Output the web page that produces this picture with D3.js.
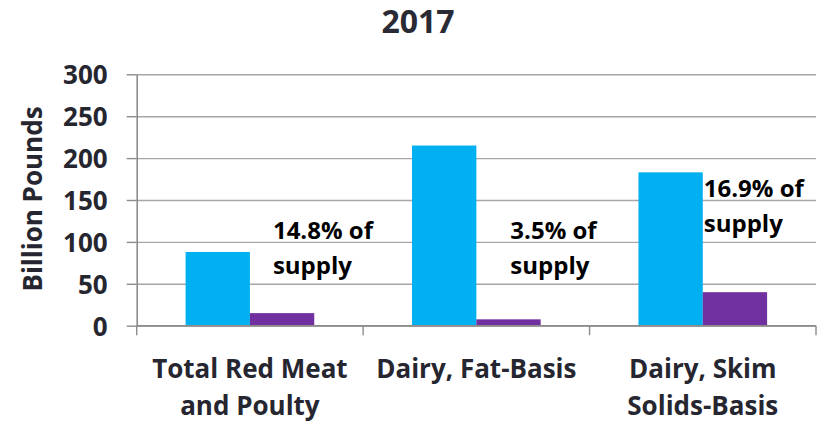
<!DOCTYPE html>
<html>
<head>
<meta charset="utf-8">
<script src="https://cdn.jsdelivr.net/npm/d3@7"></script>
<style>
  body { margin: 0; background: #fff; }
  text { font-family: "Open Sans", Lato, sans-serif; font-weight: 700; }
</style>
</head>
<body>
<div id="chart"></div>
<script>
// Chart data
const categories = [["Total Red Meat", "and Poulty"], ["Dairy, Fat-Basis"], ["Dairy, Skim", "Solids-Basis"]];
const seriesNames = ["Supply", "Exports"];
const supply = [88, 215, 183];
const exports = [15, 7.6, 40];
const shareLabels = [["14.8% of", "supply"], ["3.5% of", "supply"], ["16.9% of", "supply"]];
const yTicks = [0, 50, 100, 150, 200, 250, 300];
const title = "2017";

const svgWidth = 824, svgHeight = 422;
const margin = { top: 74.3, right: 8, bottom: 96.3, left: 136.7 };
const width = svgWidth - margin.left - margin.right;
const height = svgHeight - margin.top - margin.bottom;
const colors = ["#00B0F0", "#7030A0"];

const svg = d3.select("#chart")
    .append("svg")
    .attr("width", svgWidth)
    .attr("height", svgHeight);

const g = svg.append("g")
    .attr("transform", `translate(${margin.left},${margin.top})`);

// Scales
const x = d3.scaleBand()
    .domain(d3.range(categories.length))
    .range([0, width])
    .padding(0);

const x1 = d3.scaleBand()
    .domain(seriesNames)
    .range([0, x.bandwidth()])
    .paddingInner(0)
    .paddingOuter(0.76);

const y = d3.scaleLinear()
    .domain([0, 300])
    .range([height, 0]);

// Gridlines
g.append("g")
    .attr("class", "grid")
    .call(d3.axisLeft(y).tickValues(yTicks).tickSize(-width).tickFormat(""))
    .call(s => s.select(".domain").remove())
    .call(s => s.selectAll("line").attr("stroke", "#a6a6a6").attr("stroke-width", 1.4));

// Y axis
const yAxis = g.append("g")
    .call(d3.axisLeft(y).tickValues(yTicks).tickSize(10).tickPadding(19).tickSizeOuter(0));
yAxis.select(".domain").attr("stroke", "#8c8c8c").attr("stroke-width", 1.6);
yAxis.selectAll(".tick line").attr("stroke", "#8c8c8c").attr("stroke-width", 1.4);
yAxis.selectAll(".tick text")
    .attr("fill", "#262630")
    .style("font-size", "26px")
    .attr("dy", "0.36em");

// Bars
const rows = categories.map((c, i) => ({ i, values: [supply[i], exports[i]] }));
g.selectAll(".group")
    .data(rows)
    .enter().append("g")
    .attr("class", "group")
    .attr("transform", d => `translate(${x(d.i)},0)`)
    .selectAll("rect")
    .data(d => d.values.map((v, k) => ({ key: seriesNames[k], k, v })))
    .enter().append("rect")
    .attr("x", d => x1(d.key))
    .attr("y", d => y(d.v))
    .attr("width", x1.bandwidth())
    .attr("height", d => y(0) - y(d.v))
    .attr("fill", d => colors[d.k]);

// X axis: line plus boundary ticks
const xAxis = g.append("g").attr("transform", `translate(0,${height})`);
xAxis.append("line")
    .attr("x1", 0).attr("x2", width)
    .attr("stroke", "#8c8c8c").attr("stroke-width", 1.6);
xAxis.selectAll(".bound")
    .data(d3.range(categories.length + 1))
    .enter().append("line")
    .attr("x1", d => d * x.step()).attr("x2", d => d * x.step())
    .attr("y1", 0).attr("y2", 9.5)
    .attr("stroke", "#8c8c8c").attr("stroke-width", 1.4);

// Category labels
xAxis.selectAll(".cat")
    .data(categories)
    .enter().append("text")
    .attr("class", "cat")
    .attr("x", (d, i) => x(i) + x.bandwidth() / 2)
    .attr("y", 52)
    .attr("text-anchor", "middle")
    .attr("fill", "#262630")
    .style("font-size", "26px")
    .selectAll("tspan")
    .data(d => d)
    .enter().append("tspan")
    .attr("x", function () { return d3.select(this.parentNode).attr("x"); })
    .attr("dy", (d, i) => i === 0 ? 0 : 37)
    .text(d => d);

// Share annotations (anchored next to the export bars)
const annoAnchor = [{ dx: 23, v: 103 }, { dx: 34, v: 103 }, { dx: 1, v: 153 }];
g.selectAll(".anno")
    .data(shareLabels)
    .enter().append("text")
    .attr("class", "anno")
    .attr("fill", "#000")
    .style("font-size", "24px")
    .each(function (d, i) {
        const x0 = x(i) + x1(seriesNames[1]) + annoAnchor[i].dx;
        d3.select(this).selectAll("tspan")
            .data(d)
            .enter().append("tspan")
            .attr("x", x0)
            .attr("y", (t, j) => y(annoAnchor[i].v) + j * 34.5)
            .text(t => t);
    });

// Y axis title
svg.append("text")
    .attr("transform", `translate(42,${margin.top + height / 2 - 1}) rotate(-90)`)
    .attr("text-anchor", "middle")
    .attr("fill", "#262630")
    .style("font-size", "26px")
    .text("Billion Pounds");

// Chart title
svg.append("text")
    .attr("x", 418)
    .attr("y", 33)
    .attr("text-anchor", "middle")
    .attr("fill", "#2a2a35")
    .style("font-size", "32px")
    .text(title);
</script>
</body>
</html>
